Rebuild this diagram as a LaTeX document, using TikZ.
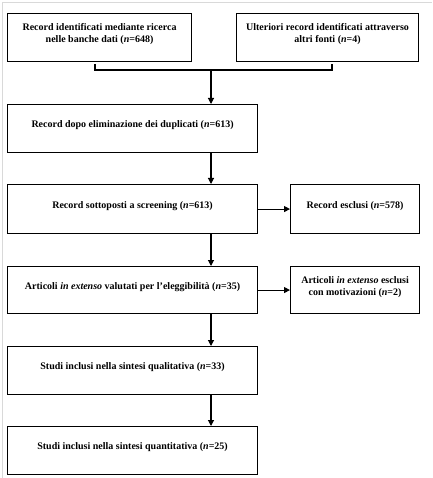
\documentclass[tikz,border=0pt]{standalone}
\usepackage{fontspec}
\setmainfont{Liberation Serif}
\usetikzlibrary{arrows.meta}
\begin{document}
\begin{tikzpicture}[x=1pt,y=-1pt,
  box/.style={draw=black, line width=1.1pt, fill=white, inner sep=0pt, align=center,
    font=\fontsize{10}{12}\selectfont\bfseries, anchor=north west, text depth=9pt},
  conn/.style={line width=1.1pt, draw=black},
  arr/.style={conn, -{Triangle[length=6pt,width=6pt]}},
  frame/.style={draw=black!15, line width=1pt}]
\useasboundingbox (0,0) rectangle (432,478);
\fill[white] (0,0) rectangle (432,478);
\draw[frame] (2,478) -- (2,2.5) -- (432,2.5);
% boxes
\node[box, minimum width=184pt, minimum height=48pt] (b1) at (7,13)
  {Record identificati mediante ricerca\\nelle banche dati (\textit{n}=648)};
\node[box, minimum width=182pt, minimum height=48pt] (b2) at (236,13)
  {Ulteriori record identificati attraverso\\altri fonti (\textit{n}=4)};
\node[box, minimum width=250pt, minimum height=48pt] (b3) at (7,104)
  {Record dopo eliminazione dei duplicati (\textit{n}=613)};
\node[box, minimum width=250pt, minimum height=49pt] (b4) at (7,184)
  {Record sottoposti a screening (\textit{n}=613)};
\node[box, minimum width=129pt, minimum height=49pt] (e1) at (290,184)
  {Record esclusi (\textit{n}=578)};
\node[box, minimum width=250pt, minimum height=47pt] (b5) at (7,266)
  {Articoli \textit{in extenso} valutati per l’eleggibilità (\textit{n}=35)};
\node[box, minimum width=129pt, minimum height=47pt] (e2) at (290,266)
  {Articoli \textit{in extenso} esclusi\\con motivazioni (\textit{n}=2)};
\node[box, minimum width=250pt, minimum height=48pt] (b6) at (7,346)
  {Studi inclusi nella sintesi qualitativa (\textit{n}=33)};
\node[box, minimum width=250pt, minimum height=48pt] (b7) at (7,426)
  {Studi inclusi nella sintesi quantitativa (\textit{n}=25)};
% bracket
\coordinate (l1) at (95,64);
\coordinate (l2) at (95,70);
\coordinate (r1) at (332,64);
\coordinate (r2) at (332,70);
\coordinate (m) at (211,70);
\draw[conn] (l1) -- (l2) -- (r2) -- (r1);
\draw[arr] (m) -- (m |- b3.north);
% vertical arrows
\draw[arr] (m |- b3.south) -- (m |- b4.north);
\draw[arr] (m |- b4.south) -- (m |- b5.north);
\draw[arr] (m |- b5.south) -- (m |- b6.north);
\draw[arr] (m |- b6.south) -- (m |- b7.north);
% horizontal arrows
\draw[arr] (b4.east) -- (e1.west);
\draw[arr] (b5.east) -- (e2.west);
\end{tikzpicture}
\end{document}
